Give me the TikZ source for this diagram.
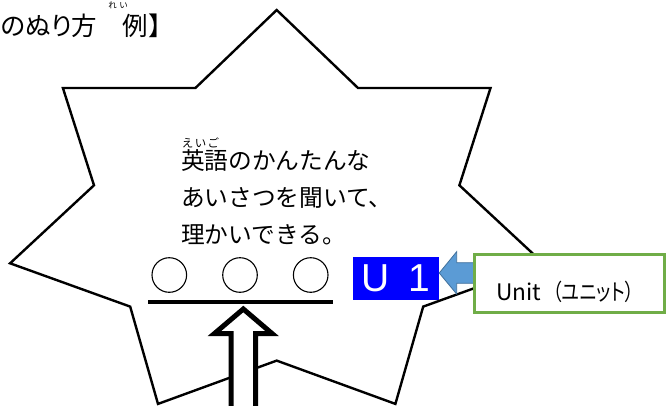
\documentclass[tikz,border=0pt]{standalone}
\usepackage{fontspec}
\usepackage{tikz}
\usetikzlibrary{positioning}
\newfontfamily\jpfont{Noto Sans CJK JP}
\newfontfamily\jppalt[RawFeature=+palt]{Noto Sans CJK JP}
\newfontfamily\jpnarrow[RawFeature=+palt, FakeStretch=0.8]{Noto Sans CJK JP}
\newfontfamily\latinsans{Liberation Sans}
\definecolor{arrowblue}{HTML}{5B9BD5}
\definecolor{arrowedge}{HTML}{41719C}
\definecolor{boxgreen}{HTML}{70AD47}
\tikzstyle{starline} = [line width=2.4, draw=black, fill=white, line join=miter]
\tikzstyle{colorspot} = [circle, draw=black, line width=1.1, minimum size=34.6, inner sep=0]
\tikzstyle{plaintext} = [inner sep=0, outer sep=0]
\tikzstyle{unitmark} = [rectangle, fill=blue, minimum width=85.7, minimum height=43.3, inner sep=0, text=white]
\tikzstyle{labelbox} = [rectangle, draw=boxgreen, line width=2.5, fill=white, minimum width=190, minimum height=58]
\tikzstyle{hollow} = [line width=5, draw=black, fill=white, line join=miter]

\begin{document}
\begin{tikzpicture}[x=1pt, y=-1pt]
        \clip (0,0) rectangle (668,405);
        \fill[white] (0,0) rectangle (668,405);

        % title
        \node (title) [plaintext, anchor=base west, font=\jpfont\fontsize{25.5}{25.5}\selectfont] at (0.5,35.5) {{\jppalt のぬり方}　例】};
        \node (rei) [plaintext, font=\jpfont\fontsize{8.5}{8.5}\selectfont] at (118,5.5) {れ\hspace{2.5pt}い};

        % star
        \draw[starline] (276.7,10) -- (358.0,88) -- (490.5,88) -- (459.4,185.3) -- (543.3,263.3)
            -- (423.2,306.6) -- (395.4,403.9) -- (276.7,360.6) -- (158.0,403.9) -- (130.2,306.6)
            -- (10.1,263.3) -- (94.0,185.3) -- (62.9,88) -- (195.4,88) -- cycle;

        % goal text
        \node (goal) [plaintext, anchor=north west, align=left, font=\jpfont\fontsize{23.7}{37}\selectfont] at (181,150)
            {英語のかんたんな\\あいさつを聞いて、\\理かいできる。};
        \node (eigo) [plaintext, font=\jpfont\fontsize{11.5}{11.5}\selectfont] at (200.5,142.5) {え\hspace{1.3pt}い\hspace{1.3pt}ご};

        \node (spot1) [colorspot] at (169.3,275) {};
        \node (spot2) [colorspot] at (240,275) {};
        \node (spot3) [colorspot] at (310.7,275) {};
        \coordinate (lineL) at (148.3,302.3);
        \coordinate (lineR) at (332.7,302.3);
        \draw[line width=4] (lineL) -- (lineR);

        % arrow up to the line
        \coordinate (tip) at (243.3,309);
        \draw[hollow] (tip) -- (214.5,333.5) -- (231,333.5) -- (231,412) -- (255.5,412)
            -- (255.5,333.5) -- (272,333.5) -- cycle;

        % unit
        \node (u1) [unitmark, font=\latinsans\fontsize{39}{39}\selectfont] at (396.2,278.3) {U\hspace{8pt} 1};
        \draw[fill=arrowblue, draw=arrowedge, line width=0.8] (u1.east) ++(0,-5.3) -- ++(17.4,-21.3)
            -- ++(0,11) -- ++(20,0) -- ++(0,20.6) -- ++(-20,0) -- ++(0,10.7) -- cycle;
        \node (unit) [labelbox] at (569.7,283.7) {};
        \node (unittext) [plaintext, anchor=base west, font=\jpfont\fontsize{22.7}{22.7}\selectfont] at (496,300)
            {Unit\hspace{12pt}{\jpnarrow （ユニット）}};

        \end{tikzpicture}
\end{document}
